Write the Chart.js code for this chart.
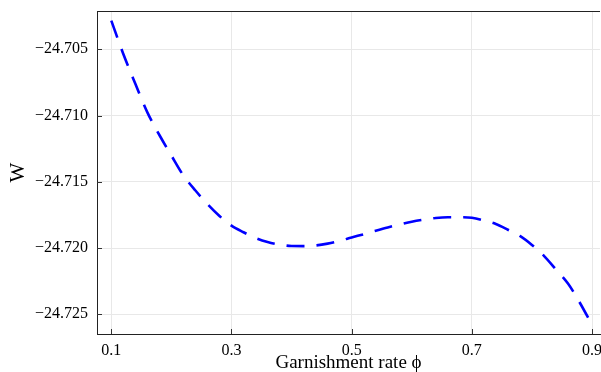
<!DOCTYPE html>
<html>
<head>
<meta charset="utf-8">
<script src="https://cdn.jsdelivr.net/npm/chart.js@4/dist/chart.umd.min.js"></script>
<style>
  html, body { margin: 0; padding: 0; background: #fff; }
</style>
</head>
<body>
<canvas id="grafica" width="601" height="372"></canvas>
<script>
// tasa de embargo (phi) y bienestar W
const tasa = [
    0.10, 0.12, 0.14, 0.16, 0.18, 0.20, 0.22, 0.24, 0.26, 0.28,
    0.30, 0.32, 0.34, 0.36, 0.38, 0.40, 0.42, 0.44, 0.46, 0.48,
    0.50, 0.52, 0.54, 0.56, 0.58, 0.60, 0.62, 0.64, 0.66, 0.68,
    0.70, 0.72, 0.74, 0.76, 0.78, 0.80, 0.82, 0.84, 0.86, 0.88,
    0.90
];
const bienestar = [
    -24.70284, -24.70536, -24.70760, -24.70976, -24.71147, -24.71302, -24.71452, -24.71566, -24.71668, -24.71758,
    -24.71831, -24.71881, -24.71924, -24.71954, -24.71974, -24.71985, -24.71986, -24.71981, -24.71967, -24.71946,
    -24.71920, -24.71896, -24.71870, -24.71845, -24.71822, -24.71801, -24.71785, -24.71773, -24.71768, -24.71768,
    -24.71772, -24.71792, -24.71819, -24.71862, -24.71909, -24.71977, -24.72059, -24.72162, -24.72268, -24.72415,
    -24.72580
];
const ticksX = [0.1, 0.3, 0.5, 0.7, 0.9];
const ticksY = [-24.725, -24.720, -24.715, -24.710, -24.705];

const fuente = "'Liberation Serif', 'DejaVu Serif', serif";

// marcas cortas hacia dentro y borde superior del marco
const marcas = {
    id: 'marcas',
    afterDraw(chart) {
        const ctx = chart.ctx;
        const area = chart.chartArea;
        const sx = chart.scales.x;
        const sy = chart.scales.y;
        ctx.save();
        ctx.strokeStyle = '#333';
        ctx.lineWidth = 1;
        ctx.beginPath();
        ticksX.forEach(v => {
            const px = Math.round(sx.getPixelForValue(v)) + 0.5;
            ctx.moveTo(px, area.bottom);
            ctx.lineTo(px, area.bottom - 5);
        });
        ticksY.forEach(v => {
            const py = Math.round(sy.getPixelForValue(v)) + 0.5;
            ctx.moveTo(area.left, py);
            ctx.lineTo(area.left + 5, py);
        });
        ctx.stroke();
        ctx.strokeStyle = '#222';
        ctx.beginPath();
        ctx.moveTo(area.left, Math.round(area.top) + 0.5);
        ctx.lineTo(area.right, Math.round(area.top) + 0.5);
        ctx.stroke();
        ctx.restore();
    }
};

const ctx = document.getElementById('grafica').getContext('2d');
const grafica = new Chart(ctx, {
    type: 'line',
    data: {
        labels: tasa,
        datasets: [{
            data: tasa.map((x, i) => ({ x: x, y: bienestar[i] })),
            borderColor: '#0000ff',
            borderWidth: 2.6,
            borderDash: [18, 12],
            pointRadius: 0,
            fill: false,
            cubicInterpolationMode: 'monotone'
        }]
    },
    options: {
        responsive: false,
        animation: false,
        layout: { padding: { top: 11, right: 1, left: 0, bottom: 0 } },
        plugins: {
            legend: { display: false },
            tooltip: { enabled: false }
        },
        scales: {
            x: {
                type: 'linear',
                min: 0.0762,
                max: 0.9133,
                afterBuildTicks: s => { s.ticks = ticksX.map(v => ({ value: v })); },
                afterFit: s => { s.height = 38; s.paddingLeft = 0; s.paddingRight = 0; },
                grid: { color: '#e8e8e8', drawTicks: false },
                border: { color: '#222', width: 1 },
                ticks: {
                    padding: 7,
                    color: '#000',
                    font: { family: fuente, size: 16 },
                    callback: v => v.toFixed(1)
                },
                title: {
                    display: true,
                    text: 'Garnishment rate ϕ',
                    color: '#000',
                    font: { family: fuente, size: 19, lineHeight: 1 },
                    padding: { top: 0, bottom: -1 }
                }
            },
            y: {
                type: 'linear',
                min: -24.72649,
                max: -24.70211,
                afterBuildTicks: s => { s.ticks = ticksY.map(v => ({ value: v })); },
                afterFit: s => { s.width = 97; s.paddingTop = 0; s.paddingBottom = 0; },
                grid: { color: '#e8e8e8', drawTicks: false },
                border: { color: '#222', width: 1 },
                ticks: {
                    padding: 9,
                    color: '#000',
                    font: { family: fuente, size: 16 },
                    callback: v => '\u2212' + Math.abs(v).toFixed(3)
                },
                title: {
                    display: true,
                    text: 'W',
                    color: '#000',
                    font: { family: fuente, size: 21, lineHeight: 1 },
                    padding: { top: 8, bottom: 0 }
                }
            }
        }
    },
    plugins: [marcas]
});
</script>
</body>
</html>
